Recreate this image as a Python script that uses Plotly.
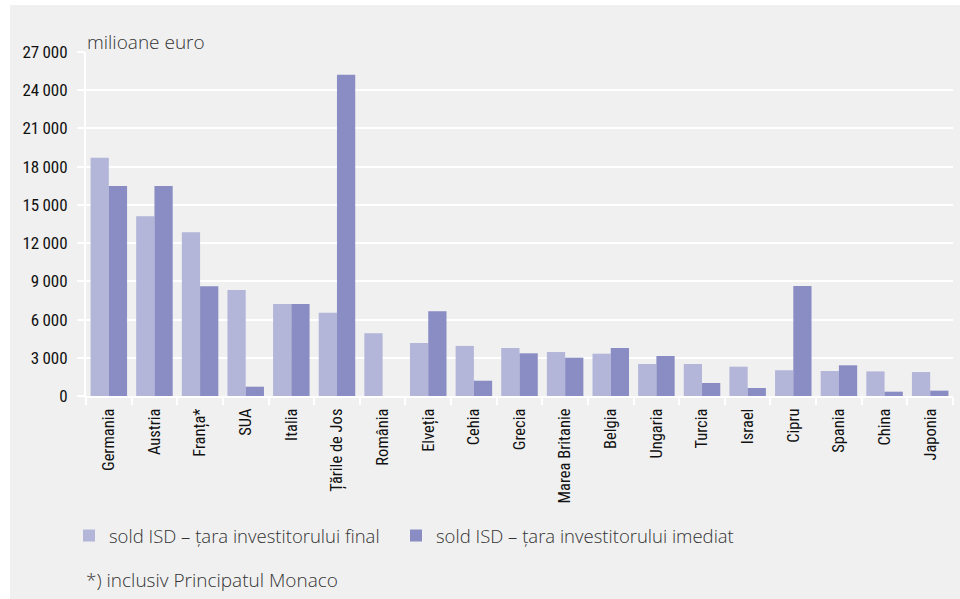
import plotly.graph_objects as go

countries = ["Germania", "Austria", "Franța*", "SUA", "Italia", "Țările de Jos", "România",
             "Elveția", "Cehia", "Grecia", "Marea Britanie", "Belgia", "Ungaria", "Turcia",
             "Israel", "Cipru", "Spania", "China", "Japonia"]
final_investor = [18700, 14100, 12850, 8320, 7220, 6540, 4920, 4160, 3930, 3770, 3450, 3320,
                  2510, 2510, 2300, 2020, 1960, 1930, 1880]
immediate_investor = [16480, 16480, 8610, 730, 7220, 25220, 0, 6650, 1200, 3350, 3010, 3770,
                      3140, 1020, 630, 8630, 2410, 340, 420]
series_names = ["sold ISD – țara investitorului final", "sold ISD – țara investitorului imediat"]
y_tickvals = [0, 3000, 6000, 9000, 12000, 15000, 18000, 21000, 24000, 27000]
y_ticktext = ["0", "3\u2009000", "6\u2009000", "9\u2009000", "12\u2009000", "15\u2009000",
              "18\u2009000", "21\u2009000", "24\u2009000", "27\u2009000"]
unit_label = "milioane euro"
footnote = "*) inclusiv Principatul Monaco"

LIGHT = "#b3b5d9"
DARK = "#8a8dc3"
BG = "#f0f0f0"
COND = "Liberation Sans Narrow, Arial Narrow, Roboto Condensed, sans-serif"
TXT = "Open Sans, Noto Sans, sans-serif"

W, H = 960, 599
L, R, T, B = 86, 7, 52, 203
pw = W - L - R
ph = H - T - B

fig = go.Figure()
fig.add_trace(go.Bar(x=countries, y=final_investor, name=series_names[0], legend="legend",
                     marker=dict(color=LIGHT, line=dict(width=0))))
fig.add_trace(go.Bar(x=countries, y=immediate_investor, name=series_names[1], legend="legend2",
                     marker=dict(color=DARK, line=dict(width=0))))

def px_x(p):
    return (p - L) / pw

def px_y(p):
    return (H - B - p) / ph

legend_font = dict(family=TXT, size=18.5, color="#333333", weight=300)

fig.update_layout(
    width=W, height=H,
    margin=dict(l=L, r=R, t=T, b=B),
    paper_bgcolor="white",
    plot_bgcolor=BG,
    barmode="group",
    bargap=0.2,
    bargroupgap=0,
    showlegend=True,
    legend=dict(orientation="h", x=px_x(69), xanchor="left", y=px_y(536), yanchor="middle",
                font=legend_font, bgcolor="rgba(0,0,0,0)", itemclick=False),
    legend2=dict(orientation="h", x=px_x(396), xanchor="left", y=px_y(536), yanchor="middle",
                 font=legend_font, bgcolor="rgba(0,0,0,0)", itemclick=False),
    xaxis=dict(type="category", tickson="boundaries", ticks="outside", ticklen=7,
               tickwidth=2, tickcolor="white", showline=True, linecolor="white",
               linewidth=2, showgrid=False, tickangle=-90, ticklabelstandoff=4,
               tickfont=dict(family=COND, size=16.5, color="#111111")),
    yaxis=dict(range=[0, 27000], tickvals=y_tickvals, ticktext=y_ticktext,
               ticks="outside", ticklen=7, tickwidth=2, tickcolor="white",
               showgrid=True, gridcolor="white", gridwidth=2, zeroline=False,
               showline=True, linecolor="white", linewidth=2, ticklabelstandoff=6,
               tickfont=dict(family=COND, size=17, color="#111111")),
    shapes=[dict(type="rect", xref="paper", yref="paper",
                 x0=px_x(10), x1=px_x(960), y0=px_y(599), y1=px_y(5),
                 fillcolor=BG, line=dict(width=0), layer="below")],
    annotations=[
        dict(text=unit_label, xref="paper", yref="paper", x=px_x(85), y=px_y(42),
             xanchor="left", yanchor="middle", showarrow=False,
             font=dict(family=TXT, size=19, color="#333333", weight=300)),
        dict(text=footnote, xref="paper", yref="paper", x=px_x(84), y=px_y(580),
             xanchor="left", yanchor="middle", showarrow=False,
             font=dict(family=TXT, size=19, color="#333333", weight=300)),
    ],
)

fig.write_html("out.html", config={"displayModeBar": False},
               post_script="document.body.style.margin='0px';")
